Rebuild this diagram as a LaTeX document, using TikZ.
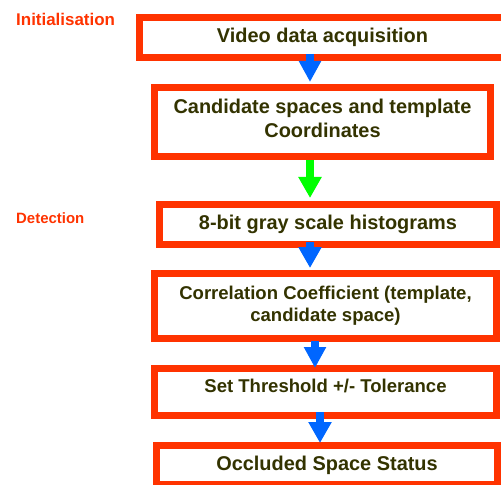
\documentclass[tikz,border=0pt]{standalone}
\usepackage{fontspec}
\setmainfont{Liberation Sans}
\usetikzlibrary{arrows.meta}
\definecolor{boxred}{HTML}{FF3300}
\definecolor{txtol}{HTML}{333300}
\definecolor{arrblue}{HTML}{0066FF}
\definecolor{arrgreen}{HTML}{00FF00}
\begin{document}
\begin{tikzpicture}[x=1bp,y=-1bp,
  stepbox/.style={draw=boxred, line width=7bp, fill=white, inner sep=0pt,
    align=center, text=txtol, font=\bfseries\fontsize{20}{24}\selectfont},
  smalltxt/.style={font=\bfseries\fontsize{18.6}{22.3}\selectfont},
  phase/.style={text=boxred, inner sep=0pt, anchor=base west},
  barrow/.style={line width=7.5bp, draw=#1, -{Triangle[length=21bp,width=21bp]}},
]
\useasboundingbox (0,0) rectangle (501,485);

% phase labels
\node[phase, font=\bfseries\fontsize{17}{20}\selectfont] (init) at (16,26) {Initialisation};
\node[phase, font=\bfseries\fontsize{15}{18}\selectfont] (det) at (16,223) {Detection};

% process boxes
\node[stepbox, minimum width=366bp, minimum height=40bp] (b1) at (322.5,37.5) {Video data acquisition};
\node[stepbox, minimum width=336bp, minimum height=69bp, text depth=8bp] (b2) at (322.5,122)
  {Candidate spaces and template\\Coordinates};
\node[stepbox, minimum width=337bp, minimum height=40bp] (b3) at (328,224.5) {8-bit gray scale histograms};
\node[stepbox, smalltxt, minimum width=342bp, minimum height=65bp] (b4) at (325.5,306)
  {Correlation Coefficient (template,\\candidate space)};
\node[stepbox, smalltxt, minimum width=342bp, minimum height=47bp, text height=13.6bp, text depth=12bp] (b5) at (325.5,392)
  {Set Threshold +/- Tolerance};
\node[stepbox, minimum width=341bp, minimum height=39bp] (b6) at (327,465) {Occluded Space Status};

% x positions of the block arrows
\coordinate (xa) at (310,0);
\coordinate (xb) at (315,0);
\coordinate (xc) at (320,0);

% connectors
\draw[barrow=arrblue, shorten <=-7bp, shorten >=2bp] (b1.south -| xa) -- (b2.north -| xa);
\draw[barrow=arrgreen, line width=8bp, -{Triangle[length=21bp,width=22bp]}, shorten >=3bp] (b2.south -| xa) -- (b3.north -| xa);
\draw[barrow=arrblue, line width=8bp, -{Triangle[length=21bp,width=22bp]}, shorten <=-6bp, shorten >=2bp] (b3.south -| xa) -- (b4.north -| xa);
\draw[barrow=arrblue, shorten <=-1bp, shorten >=-3bp] (b4.south -| xb) -- (b5.north -| xb);
\draw[barrow=arrblue, -{Triangle[length=21bp,width=22bp]}, shorten <=-7bp, shorten >=-1bp] (b5.south -| xc) -- (b6.north -| xc);
\end{tikzpicture}
\end{document}
